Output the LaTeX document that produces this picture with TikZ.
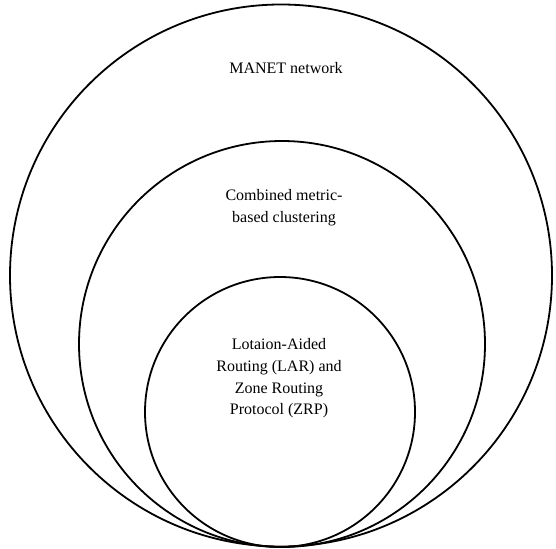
\documentclass[tikz,border=0pt]{standalone}
\usepackage{fontspec}
\setmainfont{Liberation Serif}
\begin{document}
\begin{tikzpicture}[x=1pt,y=-1pt,
  ring/.style={draw=black, line width=1.8pt, circle, inner sep=0pt},
  lbl/.style={align=center, inner sep=0pt, font=\fontsize{16}{21.7}\selectfont}]
\useasboundingbox (0,0) rectangle (556,548);
\node[ring, minimum size=542pt] (outer) at (281,275.5) {};
\node[ring, minimum size=406pt] (middle) at (282,344) {};
\node[ring, minimum size=270pt] (inner) at (280,412) {};
\node[lbl] (t1) at (286,68) {MANET network};
\node[lbl] (t2) at (284,208) {Combined metric-\\based clustering};
\node[lbl] (t3) at (279,378.5) {Lotaion-Aided\\Routing (LAR) and\\Zone Routing\\Protocol (ZRP)};
\end{tikzpicture}
\end{document}
